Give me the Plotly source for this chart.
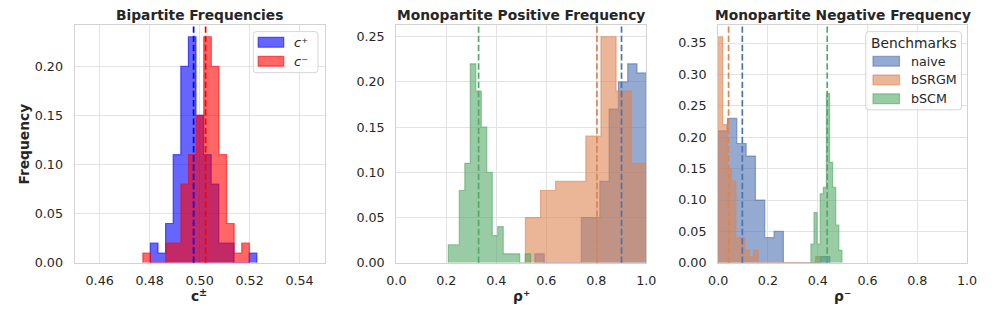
import numpy as np
import plotly.graph_objects as go

# --- values ---

# bipartite: c+ / c- histograms (bin range, frequency per bin, mean)
CPLUS_RANGE = (0.4803, 0.5229)
CPLUS_FREQ = [0.02, 0.01, 0.04, 0.11, 0.20, 0.23, 0.15, 0.11, 0.08, 0.02, 0.02, 0.0, 0.0, 0.01]
CPLUS_MEAN = 0.4976
CMINUS_RANGE = (0.4773, 0.5199)
CMINUS_FREQ = [0.01, 0.0, 0.0, 0.02, 0.02, 0.08, 0.11, 0.15, 0.23, 0.20, 0.11, 0.04, 0.01, 0.02]
CMINUS_MEAN = 0.5024

BENCHMARKS = ["naive", "bSRGM", "bSCM"]

# monopartite positive (rho+)
NAIVE_POS_RANGE = (0.5544, 1.0)
NAIVE_POS_FREQ = [0.01, 0.0, 0.0, 0.0, 0.0, 0.05, 0.05, 0.09, 0.17, 0.20, 0.22, 0.21]
NAIVE_POS_MEAN = 0.901
BSRGM_POS_RANGE = (0.5165, 1.0)
BSRGM_POS_FREQ = [0.05, 0.08, 0.09, 0.09, 0.14, 0.25, 0.19, 0.11]
BSRGM_POS_MEAN = 0.8027
BSCM_POS_RANGE = (0.208, 0.5374)
BSCM_POS_FREQ = [0.02, 0.02, 0.08, 0.11, 0.22, 0.19, 0.15, 0.10, 0.03, 0.04, 0.01, 0.01, 0.01, 0.0, 0.01]
BSCM_POS_MEAN = 0.329

# monopartite negative (rho-)
NAIVE_NEG_RANGE = (0.0, 0.449)
NAIVE_NEG_FREQ = [0.21, 0.23, 0.19, 0.17, 0.10, 0.04, 0.05, 0.0, 0.0, 0.0, 0.0, 0.01]
NAIVE_NEG_MEAN = 0.097
BSRGM_NEG_RANGE = (0.0, 0.409)
BSRGM_NEG_FREQ = [0.36, 0.22, 0.15, 0.13, 0.04, 0.04, 0.02, 0.01, 0.02,
                  0.0, 0.0, 0.0, 0.0, 0.0, 0.0, 0.0, 0.0, 0.0, 0.0, 0.0, 0.0, 0.0, 0.01]
BSRGM_NEG_MEAN = 0.0417
BSCM_NEG_RANGE = (0.3725, 0.4972)
BSCM_NEG_FREQ = [0.03, 0.08, 0.03, 0.11, 0.12, 0.27, 0.16, 0.12, 0.06, 0.02]
BSCM_NEG_MEAN = 0.438

X1_TICKS = [0.46, 0.48, 0.50, 0.52, 0.54]
X23_TICKS = [0.0, 0.2, 0.4, 0.6, 0.8, 1.0]

W, H = 996, 321
FONT = "DejaVu Sans"
TXT = "#262626"
DEEP = {"naive": "#4C72B0", "bSRGM": "#DD8452", "bSCM": "#55A868"}


def rgba(hexcol, a):
    h = hexcol.lstrip("#")
    r, g, b = int(h[0:2], 16), int(h[2:4], 16), int(h[4:6], 16)
    return "rgba(%d,%d,%d,%s)" % (r, g, b, a)


def px(x):
    return x / W


def py(y):
    return 1 - y / H


def step_hist(rng, freq, color, xa, ya):
    # stepfilled histogram: outline over edges, filled down to zero
    edges = np.linspace(rng[0], rng[1], len(freq) + 1)
    x = np.concatenate([[edges[0]], edges])
    y = np.concatenate([[0.0], freq, [0.0]])
    return go.Scatter(x=x, y=y, mode="lines", line_shape="hv",
                      line=dict(color=rgba(color, 0.6), width=1.2),
                      fill="tozeroy", fillcolor=rgba(color, 0.6),
                      xaxis=xa, yaxis=ya, showlegend=False, hoverinfo="skip")


fig = go.Figure()

fig.add_trace(step_hist(CPLUS_RANGE, CPLUS_FREQ, "#0000FF", "x", "y"))
fig.add_trace(step_hist(CMINUS_RANGE, CMINUS_FREQ, "#FF0000", "x", "y"))

pos = [(NAIVE_POS_RANGE, NAIVE_POS_FREQ), (BSRGM_POS_RANGE, BSRGM_POS_FREQ), (BSCM_POS_RANGE, BSCM_POS_FREQ)]
neg = [(NAIVE_NEG_RANGE, NAIVE_NEG_FREQ), (BSRGM_NEG_RANGE, BSRGM_NEG_FREQ), (BSCM_NEG_RANGE, BSCM_NEG_FREQ)]
for name, (r, f) in zip(BENCHMARKS, pos):
    fig.add_trace(step_hist(r, f, DEEP[name], "x2", "y2"))
for name, (r, f) in zip(BENCHMARKS, neg):
    fig.add_trace(step_hist(r, f, DEEP[name], "x3", "y3"))

# mean lines
means = [(CPLUS_MEAN, "#0000FF", "x"), (CMINUS_MEAN, "#FF0000", "x"),
         (NAIVE_POS_MEAN, DEEP["naive"], "x2"), (BSRGM_POS_MEAN, DEEP["bSRGM"], "x2"),
         (BSCM_POS_MEAN, DEEP["bSCM"], "x2"),
         (NAIVE_NEG_MEAN, DEEP["naive"], "x3"), (BSRGM_NEG_MEAN, DEEP["bSRGM"], "x3"),
         (BSCM_NEG_MEAN, DEEP["bSCM"], "x3")]
for m, c, xa in means:
    ya = "y" + xa[1:]
    fig.add_shape(type="line", xref=xa, yref=ya + " domain", x0=m, x1=m, y0=0, y1=1,
                  line=dict(color=c, width=1.7, dash="6.4px,2.8px"))

# axes
dom_x = [(66, 321), (394.3, 649.3), (722.7, 976.7)]
dom_y = [py(268.7), py(26)]
ymax = [max(max(CPLUS_FREQ), max(CMINUS_FREQ)),
        max(max(f) for _, f in pos),
        max(max(f) for _, f in neg)]
xranges = [[0.45, 0.55], [0.0, 1.0], [0.0, 1.0]]
xticks = [X1_TICKS, X23_TICKS, X23_TICKS]
xfmt = [".2f", ".1f", ".1f"]

common = dict(showgrid=True, gridcolor="#e3e3e3", gridwidth=1, zeroline=False,
              showline=True, mirror=True, linecolor="#d2d2d2", linewidth=1.3,
              ticks="", tickfont=dict(family=FONT, size=12.7, color=TXT))
lay = {}
for i in range(3):
    k = "" if i == 0 else str(i + 1)
    lay["xaxis" + k] = dict(common, domain=[px(dom_x[i][0]), px(dom_x[i][1])],
                            range=xranges[i], tickvals=xticks[i], tickformat=xfmt[i],
                            anchor="y" + k, ticklabelstandoff=6)
    lay["yaxis" + k] = dict(common, domain=dom_y, range=[0, ymax[i] * 1.05],
                            dtick=0.05, tick0=0, tickformat=".2f",
                            anchor="x" + k, ticklabelstandoff=8)

bold = dict(family=FONT, size=13.8, color=TXT, weight="bold")
ann = []
titles = ["Bipartite Frequencies", "Monopartite Positive Frequency", "Monopartite Negative Frequency"]
for i in range(3):
    cx = px((dom_x[i][0] + dom_x[i][1]) / 2)
    ann.append(dict(text=titles[i], x=cx, y=py(15.5), xref="paper", yref="paper",
                    showarrow=False, xanchor="center", yanchor="middle", font=bold))
# axis labels: c with a raised, smaller ± ; rho with unicode superscripts
ann.append(dict(text="c", x=px(189), y=py(303), xref="paper", yref="paper",
                showarrow=False, xanchor="center", yanchor="middle", font=bold))
ann.append(dict(text="±", x=px(197), y=py(299.5), xref="paper", yref="paper",
                showarrow=False, xanchor="center", yanchor="middle",
                font=dict(family=FONT, size=9.7, color=TXT, weight="bold")))
for i, lab in [(1, "ρ⁺"), (2, "ρ⁻")]:
    cx = px((dom_x[i][0] + dom_x[i][1]) / 2)
    ann.append(dict(text=lab, x=cx, y=py(303), xref="paper", yref="paper",
                    showarrow=False, xanchor="center", yanchor="middle", font=bold))
ann.append(dict(text="Frequency", x=px(14.7), y=py(147.4), xref="paper", yref="paper",
                showarrow=False, textangle=-90, xanchor="center", yanchor="middle", font=bold))


def round_box(x0, y0, x1, y1, r=3):
    # rounded rectangle in pixel units -> paper path
    pts = ("M %f,%f L %f,%f Q %f,%f %f,%f L %f,%f Q %f,%f %f,%f L %f,%f Q %f,%f %f,%f "
           "L %f,%f Q %f,%f %f,%f Z")
    return pts % (px(x0 + r), py(y0), px(x1 - r), py(y0), px(x1), py(y0), px(x1), py(y0 + r),
                  px(x1), py(y1 - r), px(x1), py(y1), px(x1 - r), py(y1),
                  px(x0 + r), py(y1), px(x0), py(y1), px(x0), py(y1 - r),
                  px(x0), py(y0 + r), px(x0), py(y0), px(x0 + r), py(y0))


shapes = []
# legend 1
shapes.append(dict(type="path", xref="paper", yref="paper", path=round_box(248.3, 32.3, 314.3, 74.3),
                   fillcolor="rgba(255,255,255,0.8)", line=dict(color="rgba(204,204,204,0.8)", width=1)))
for yc, c, lab in [(43.3, "#0000FF", "c⁺"), (62.7, "#FF0000", "c⁻")]:
    shapes.append(dict(type="rect", xref="paper", yref="paper", x0=px(253.3), x1=px(279.3),
                       y0=py(yc - 5), y1=py(yc + 5), fillcolor=rgba(c, 0.6),
                       line=dict(color=rgba(c, 0.6), width=1.2)))
    ann.append(dict(text=lab, x=px(288), y=py(yc), xref="paper", yref="paper", showarrow=False,
                    xanchor="left", yanchor="middle",
                    font=dict(family=FONT, size=13, color=TXT, style="italic")))
# legend 3
shapes.append(dict(type="path", xref="paper", yref="paper", path=round_box(873.3, 32.3, 971, 112.3),
                   fillcolor="rgba(255,255,255,0.8)", line=dict(color="rgba(204,204,204,0.8)", width=1)))
ann.append(dict(text="Benchmarks", x=px(922.2), y=py(43.5), xref="paper", yref="paper", showarrow=False,
                xanchor="center", yanchor="middle", font=dict(family=FONT, size=13.8, color=TXT)))
for yc, name in zip([62.5, 81.7, 101], BENCHMARKS):
    shapes.append(dict(type="rect", xref="paper", yref="paper", x0=px(880.7), x1=px(907.7),
                       y0=py(yc - 5), y1=py(yc + 5), fillcolor=rgba(DEEP[name], 0.6),
                       line=dict(color=rgba(DEEP[name], 0.6), width=1.2)))
    ann.append(dict(text=name, x=px(917.3), y=py(yc), xref="paper", yref="paper", showarrow=False,
                    xanchor="left", yanchor="middle", font=dict(family=FONT, size=12.7, color=TXT)))

fig.update_layout(**lay)
fig.update_layout(width=W, height=H, autosize=False, margin=dict(l=0, r=0, t=0, b=0),
                  plot_bgcolor="white", paper_bgcolor="white", showlegend=False,
                  font=dict(family=FONT, color=TXT), annotations=ann)
for s in shapes:
    fig.add_shape(**s)

# page body has a default 8px margin; drop it so the figure sits at the window origin
fig.write_html("out.html", config={"displayModeBar": False},
               post_script="document.body.style.margin='0';")
